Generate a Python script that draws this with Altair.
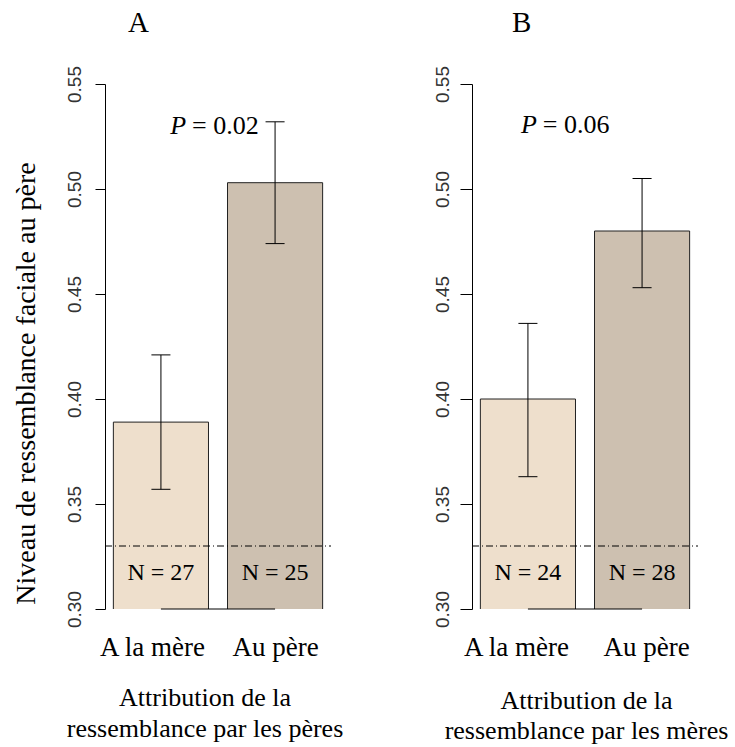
import altair as alt
import pandas as pd

# ---- data ----
categories = ["A la mère", "Au père"]
panel_keys = ["A", "B"]
means_A = [0.389, 0.503]
lower_A = [0.357, 0.474]
upper_A = [0.421, 0.532]
n_A = [27, 25]
means_B = [0.400, 0.480]
lower_B = [0.363, 0.453]
upper_B = [0.436, 0.505]
n_B = [24, 28]
p_values = ["0.02", "0.06"]
reference_level = [0.33]
y_ticks = [0.30, 0.35, 0.40, 0.45, 0.50, 0.55]
y_title = "Niveau de ressemblance faciale au père"
x_titles = [["Attribution de la", "ressemblance par les pères"],
            ["Attribution de la", "ressemblance par les mères"]]
fill_colors = ["#EEDFCC", "#CDC0B0"]

SERIF = "Liberation Serif"
SANS = "Liberation Sans"

# barplot geometry (width 1, space 0.2) as in R
BAR_W = 1.0
SPACE = 0.2
X_DOMAIN = [0.112, 2.488]
Y_DOMAIN = [0.30, 0.55]


def panel_frame(means, lo, hi, ns):
    rows = []
    for i, c in enumerate(categories):
        left = SPACE + i * (BAR_W + SPACE)
        center = left + BAR_W / 2
        rows.append(dict(cat=c, left=left, right=left + BAR_W, center=center,
                         cap_l=center - 0.1, cap_r=center + 0.1,
                         mean=means[i], lo=lo[i], hi=hi[i], n=f"N = {ns[i]}"))
    return pd.DataFrame(rows)


label_expr = f"datum.value < 1.3 ? '{categories[0]}' : '{categories[1]}'"


def make_panel(idx, df, p_text, p_x, p_y, show_ytitle, title_dx, xtitle_x, xtitle_y,
               xtitle_lh, tick_size, label_pad, lab_off):
    xs = alt.Scale(domain=X_DOMAIN, nice=False, zero=False)
    ys = alt.Scale(domain=Y_DOMAIN, nice=False, zero=False)
    x_axis = alt.Axis(values=[0.7, 1.9], labelExpr=label_expr, domain=False, ticks=False,
                      tickSize=0, grid=False, labelFont=SERIF, labelFontSize=27,
                      labelColor="black", labelBaseline="alphabetic", labelPadding=46,
                      labelFlush=False, labelOverlap=False,
                      labelOffset={"condition": {"test": "datum.value < 1.3",
                                                 "value": lab_off[0]},
                                   "value": lab_off[1]},
                      title=x_titles[idx], titleFont=SERIF, titleFontSize=26,
                      titleFontWeight="normal", titleColor="black",
                      titleX=xtitle_x, titleY=xtitle_y, titleBaseline="alphabetic",
                      titleAlign="center", titleLineHeight=xtitle_lh)
    y_kwargs = dict(values=y_ticks, format=".2f", grid=False, domainColor="black",
                    tickColor="black", tickSize=tick_size, labelAngle=270,
                    labelAlign="center", labelBaseline="alphabetic",
                    labelPadding=label_pad, labelFont=SANS, labelFontSize=19,
                    labelColor="#333333", labelFlush=False, labelOverlap=False)
    if show_ytitle:
        y_axis = alt.Axis(title=y_title, titleFont=SERIF, titleFontSize=28,
                          titleFontWeight="normal", titleColor="black",
                          titleAngle=270, titleX=-79, titleY=299,
                          titleAlign="center", titleBaseline="middle", **y_kwargs)
    else:
        y_axis = alt.Axis(title=None, **y_kwargs)

    base = alt.Chart(df)
    bars = base.mark_rect(stroke="#222222", strokeWidth=1, clip=True).encode(
        x=alt.X("left:Q", scale=xs, axis=x_axis),
        x2="right:Q",
        y=alt.Y("mean:Q", scale=ys, axis=y_axis),
        y2=alt.datum(0.0),
        color=alt.Color("cat:N", scale=alt.Scale(domain=categories, range=fill_colors),
                        legend=None),
    )
    ref = alt.Chart(pd.DataFrame({"level": reference_level})).mark_rule(
        color="black", strokeWidth=1, strokeDash=[7, 3, 1, 3]).encode(
        x=alt.datum(X_DOMAIN[0]), x2=alt.datum(X_DOMAIN[1]),
        y=alt.Y("level:Q"),
    )
    baseline = base.mark_rule(color="black", strokeWidth=1).encode(
        x=alt.X("min(center):Q"),
        x2="max(center):Q",
        y=alt.datum(Y_DOMAIN[0]),
    )
    err = base.mark_rule(color="black", strokeWidth=1).encode(
        x=alt.X("center:Q"),
        y=alt.Y("lo:Q"), y2="hi:Q",
    )
    cap_hi = base.mark_rule(color="black", strokeWidth=1).encode(
        x=alt.X("cap_l:Q"), x2="cap_r:Q",
        y=alt.Y("hi:Q"),
    )
    cap_lo = base.mark_rule(color="black", strokeWidth=1).encode(
        x=alt.X("cap_l:Q"), x2="cap_r:Q",
        y=alt.Y("lo:Q"),
    )
    ntext = base.mark_text(font=SERIF, fontSize=24, color="black",
                           baseline="alphabetic", align="center").encode(
        x=alt.X("center:Q"),
        y=alt.datum(0.3136),
        text="n:N",
    )
    p_df = pd.DataFrame({"p": [f"= {p_text}"]})
    p_italic = alt.Chart(p_df).mark_text(font=SERIF, fontSize=26, fontStyle="italic",
                                         color="black", baseline="alphabetic",
                                         align="right", text="P", dx=-3).encode(
        x=alt.datum(p_x), y=alt.datum(p_y))
    p_rest = alt.Chart(p_df).mark_text(font=SERIF, fontSize=26, color="black",
                                       baseline="alphabetic", align="left", dx=3).encode(
        x=alt.datum(p_x), y=alt.datum(p_y), text="p:N")

    return alt.layer(bars, ref, baseline, err, cap_hi, cap_lo, ntext, p_italic, p_rest).properties(
        width=226, height=525,
        title=alt.TitleParams(panel_keys[idx], anchor="start", frame="group", dx=title_dx,
                              font=SERIF, fontSize=29, fontWeight="normal", color="black",
                              offset=28),
    )


dfA = panel_frame(means_A, lower_A, upper_A, n_A)
dfB = panel_frame(means_B, lower_B, upper_B, n_B)

panelA = make_panel(0, dfA, p_values[0], 0.996, 0.5262, True, 23, 99.5, 96, 31, 10, 15, (-9, 0))
panelB = make_panel(1, dfB, p_values[1], 0.825, 0.5265, False, 40, 114, 99, 30, 12, 12, (-12, 4))

chart = alt.hconcat(panelA, panelB, spacing=141, bounds="flush").properties(
    padding={"left": 12, "top": 8, "right": 5, "bottom": 5},
    background="white",
).configure_view(stroke=None)

chart.save("out.html", embed_options={"renderer": "svg", "actions": False})
